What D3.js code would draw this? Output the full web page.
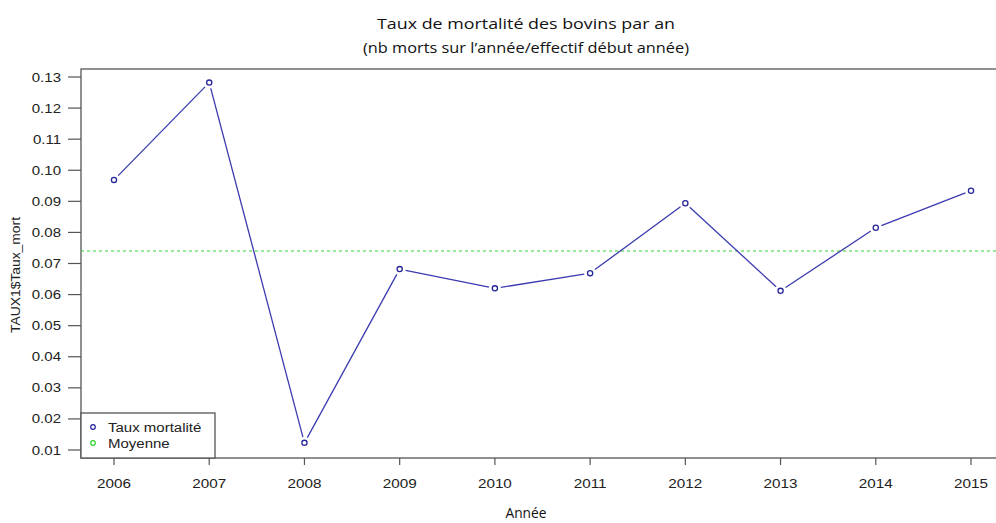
<!DOCTYPE html>
<html><head><meta charset="utf-8">
<script src="https://cdn.jsdelivr.net/npm/d3@7"></script>
<style>body{margin:0;background:#fff}svg{display:block}</style>
</head><body>
<svg id="c" width="996" height="523"></svg>
<script>
const years = [2006,2007,2008,2009,2010,2011,2012,2013,2014,2015];
const taux = [0.0969,0.1282,0.0123,0.0682,0.0620,0.0669,0.0894,0.0612,0.0815,0.0934];
const moyenne = 0.0740;
const yTicks = [0.01,0.02,0.03,0.04,0.05,0.06,0.07,0.08,0.09,0.10,0.11,0.12,0.13];
const titleLines = ["Taux de mortalité des bovins par an","(nb morts sur l\u2019année/effectif début année)"];
const xLabel = "Année";
const yLabel = "TAUX1$Taux_mort";
const legendItems = ["Taux mortalité","Moyenne"];

const svg = d3.select("#c");
const L=81, T=69, B=458, R=1005;
const x = d3.scaleLinear().domain([2006,2015]).range([114,971]);
const y = d3.scaleLinear().domain([0.01,0.13]).range([450,77]);
const axisCol="#555", txtCol="#222";
const lineCol="#3b3bb0", ptCol="#26269c", meanCol="#2fd32f";

function stretch(sel, f){
  sel.each(function(){const w=this.getComputedTextLength();
    d3.select(this).attr("textLength",w*f).attr("lengthAdjust","spacingAndGlyphs");});
}

// frame
svg.append("rect").attr("x",L).attr("y",T).attr("width",R-L).attr("height",B-T)
  .attr("fill","none").attr("stroke",axisCol).attr("stroke-width",1.3);

// y axis ticks
const gy = svg.append("g");
gy.selectAll("line").data(yTicks).join("line")
  .attr("x1",L-13).attr("x2",L).attr("y1",d=>y(d)).attr("y2",d=>y(d))
  .attr("stroke",axisCol).attr("stroke-width",1.2);
gy.selectAll("text").data(yTicks).join("text")
  .attr("x",61).attr("y",d=>y(d)+4.5).attr("text-anchor","end")
  .attr("font-family","Liberation Sans, Arial, sans-serif").attr("font-size",12.5)
  .attr("fill",txtCol).text(d=>d3.format(".2f")(d)).call(stretch,1.2);

// x axis ticks
const gx = svg.append("g");
gx.selectAll("line").data(years).join("line")
  .attr("x1",d=>x(d)).attr("x2",d=>x(d)).attr("y1",B).attr("y2",B+7)
  .attr("stroke",axisCol).attr("stroke-width",1.2);
gx.selectAll("text").data(years).join("text")
  .attr("x",d=>x(d)).attr("y",488).attr("text-anchor","middle")
  .attr("font-family","Liberation Sans, Arial, sans-serif").attr("font-size",12.5)
  .attr("fill",txtCol).text(d=>d).call(stretch,1.22);

// mean line
svg.append("line").attr("x1",L).attr("x2",R).attr("y1",y(moyenne)).attr("y2",y(moyenne))
  .attr("stroke",meanCol).attr("stroke-width",1.1).attr("stroke-dasharray","3,3");

// line segments with gaps (type "b")
const pts = years.map((yr,i)=>[x(yr),y(taux[i])]);
const gap=6;
const segs = d3.pairs(pts).map(([a,b])=>{
  const dx=b[0]-a[0], dy=b[1]-a[1], len=Math.hypot(dx,dy);
  const ux=dx/len, uy=dy/len;
  return [a[0]+ux*gap,a[1]+uy*gap,b[0]-ux*gap,b[1]-uy*gap];
});
svg.append("g").selectAll("line").data(segs).join("line")
  .attr("x1",d=>d[0]).attr("y1",d=>d[1]).attr("x2",d=>d[2]).attr("y2",d=>d[3])
  .attr("stroke",lineCol).attr("stroke-width",1.3);
svg.append("g").selectAll("circle").data(pts).join("circle")
  .attr("cx",d=>d[0]).attr("cy",d=>d[1]).attr("r",2.6)
  .attr("fill","none").attr("stroke",ptCol).attr("stroke-width",1.3);

// legend
svg.append("rect").attr("x",L).attr("y",413).attr("width",134).attr("height",B-413)
  .attr("fill","#fff").attr("stroke",axisCol).attr("stroke-width",1.3);
const lg = svg.append("g");
lg.selectAll("circle").data(legendItems).join("circle")
  .attr("cx",93).attr("cy",(d,i)=>427+i*16).attr("r",2.3).attr("fill","none")
  .attr("stroke",(d,i)=>i?meanCol:ptCol).attr("stroke-width",1.2);
lg.selectAll("text").data(legendItems).join("text")
  .attr("x",108).attr("y",(d,i)=>431.5+i*16)
  .attr("font-family","Liberation Sans, Arial, sans-serif").attr("font-size",12.5)
  .attr("fill",txtCol).text(d=>d).call(stretch,1.2);

// titles
svg.append("g").selectAll("text").data(titleLines).join("text")
  .attr("x",526).attr("y",(d,i)=>29+i*24).attr("text-anchor","middle")
  .attr("font-family","Open Sans, Lato, sans-serif").attr("font-size",15)
  .attr("fill","#111").text(d=>d)
  .each(function(d,i){d3.select(this).attr("textLength",i?326:298).attr("lengthAdjust","spacingAndGlyphs");});
svg.append("text").attr("x",526).attr("y",518).attr("text-anchor","middle")
  .attr("font-family","Open Sans, Lato, sans-serif").attr("font-size",15)
  .attr("fill","#111").text(xLabel)
  .each(function(){d3.select(this).attr("textLength",41).attr("lengthAdjust","spacingAndGlyphs");});
svg.append("text").attr("transform","translate(20,275) rotate(-90)").attr("text-anchor","middle")
  .attr("font-family","Liberation Sans, Arial, sans-serif").attr("font-size",13)
  .attr("fill",txtCol).text(yLabel)
  .each(function(){d3.select(this).attr("textLength",116).attr("lengthAdjust","spacingAndGlyphs");});
</script>
</body></html>
